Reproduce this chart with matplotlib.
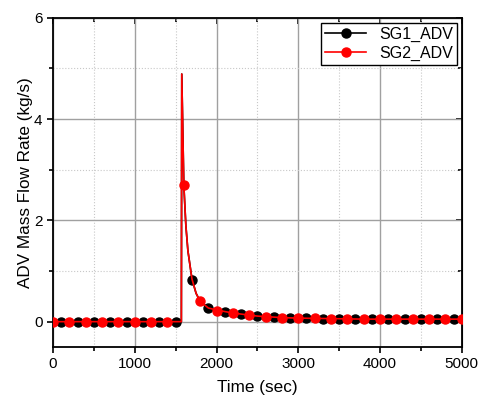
import matplotlib
matplotlib.use('Agg')
import matplotlib.pyplot as plt
from matplotlib.ticker import MultipleLocator

plt.rcParams['font.family'] = ['Liberation Sans', 'DejaVu Sans']

# line data (sec, kg/s)
t_line = [0, 100, 200, 300, 400, 500, 600, 700, 800, 900, 1000, 1100, 1200,
          1300, 1400, 1500, 1570, 1575, 1600, 1625, 1650, 1700, 1750, 1800,
          1900, 2000, 2100, 2200, 2300, 2400, 2500, 2600, 2700, 2800, 2900,
          3000, 3200, 3400, 3600, 3800, 4000, 4200, 4400, 4600, 4800, 5000]
q_line = [0, 0, 0, 0, 0, 0, 0, 0, 0, 0, 0, 0, 0,
          0, 0, 0, 0, 4.89, 2.70, 1.90, 1.40, 0.84, 0.56, 0.40,
          0.27, 0.23, 0.20, 0.17, 0.15, 0.13, 0.11, 0.10, 0.09, 0.08, 0.075,
          0.07, 0.065, 0.06, 0.055, 0.05, 0.05, 0.05, 0.05, 0.05, 0.05, 0.05]

# marker points
t_sg1 = [100, 300, 500, 700, 900, 1100, 1300, 1500, 1700, 1900, 2100, 2300,
         2500, 2700, 2900, 3100, 3300, 3500, 3700, 3900, 4100, 4300, 4500,
         4700, 4900]
q_sg1 = [0, 0, 0, 0, 0, 0, 0, 0, 0.83, 0.27, 0.20, 0.15,
         0.11, 0.09, 0.075, 0.068, 0.062, 0.058, 0.055, 0.052, 0.05, 0.05, 0.05,
         0.05, 0.05]
t_sg2 = [0, 200, 400, 600, 800, 1000, 1200, 1400, 1600, 1800, 2000, 2200,
         2400, 2600, 2800, 3000, 3200, 3400, 3600, 3800, 4000, 4200, 4400,
         4600, 4800, 5000]
q_sg2 = [0, 0, 0, 0, 0, 0, 0, 0, 2.70, 0.40, 0.22, 0.17,
         0.125, 0.10, 0.08, 0.068, 0.063, 0.058, 0.055, 0.052, 0.05, 0.05, 0.05,
         0.05, 0.05, 0.05]

fig = plt.figure(figsize=(4.82, 3.97), dpi=100)
ax = fig.add_axes([0.110, 0.126, 0.848, 0.829])

ax.plot(t_line, q_line, color='black', lw=1.2, zorder=3)
ax.plot(t_sg1, q_sg1, 'o', color='black', ms=6.5, zorder=4)
ax.plot(t_line, q_line, color='red', lw=1.2, zorder=5)
ax.plot(t_sg2, q_sg2, 'o', color='red', ms=6.5, zorder=6)

# legend proxies
ax.plot([], [], '-o', color='black', lw=1.2, ms=6.5, label='SG1_ADV')
ax.plot([], [], '-o', color='red', lw=1.2, ms=6.5, label='SG2_ADV')

ax.set_xlim(0, 5000)
ax.set_ylim(-0.5, 6)
ax.xaxis.set_major_locator(MultipleLocator(1000))
ax.xaxis.set_minor_locator(MultipleLocator(500))
ax.yaxis.set_major_locator(MultipleLocator(2))
ax.yaxis.set_minor_locator(MultipleLocator(1))

ax.grid(which='major', color='#a0a0a0', lw=1.0, ls='-')
ax.grid(which='minor', color='#c8c8c8', lw=0.8, ls=':')
ax.set_axisbelow(True)

for s in ax.spines.values():
    s.set_linewidth(1.3)
ax.tick_params(which='both', direction='out', top=False, right=False,
               labelsize=11, width=1.2)
ax.tick_params(which='major', length=4)
ax.tick_params(which='minor', length=3)
ax2 = ax.secondary_xaxis('top')
ax2.xaxis.set_major_locator(MultipleLocator(1000))
ax2.xaxis.set_minor_locator(MultipleLocator(500))
ax2.tick_params(which='both', direction='in', labeltop=False, width=1.2)
ax2.tick_params(which='major', length=4)
ax2.tick_params(which='minor', length=3)
ax3 = ax.secondary_yaxis('right')
ax3.yaxis.set_major_locator(MultipleLocator(2))
ax3.yaxis.set_minor_locator(MultipleLocator(1))
ax3.tick_params(which='both', direction='in', labelright=False, width=1.2)
ax3.tick_params(which='major', length=4)
ax3.tick_params(which='minor', length=3)

ax.set_xlabel('Time (sec)', fontsize=12.3, labelpad=6)
ax.set_ylabel('ADV Mass Flow Rate (kg/s)', fontsize=12.3, labelpad=1)

leg = ax.legend(loc='upper right', fontsize=11.5, fancybox=False,
                framealpha=1, edgecolor='black', borderpad=0.25,
                handlelength=2.6, labelspacing=0.25, borderaxespad=0.3)
leg.get_frame().set_linewidth(1.0)

fig.savefig('out.png', dpi=100)
